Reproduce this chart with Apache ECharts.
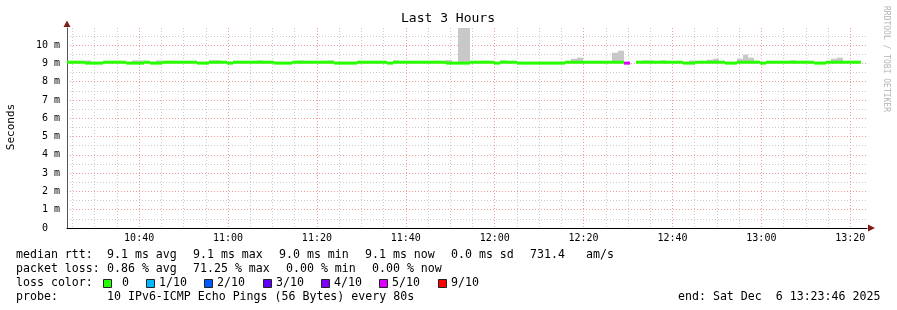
<!DOCTYPE html>
<html><head><meta charset="utf-8">
<script src="https://cdn.jsdelivr.net/npm/echarts@6/dist/echarts.min.js"></script>
<style>html,body{margin:0;padding:0;background:#fff}#c{width:897px;height:310px}</style>
</head><body><div id="c"></div>
<script>
// ---- data ----
const startTime = '10:23:46';
const spanHours = 3;
const stepSec = 80;
const xTickLabels = ['10:40','11:00','11:20','11:40','12:00','12:20','12:40','13:00','13:20'];
const yTickLabels = ['0  ','1 m','2 m','3 m','4 m','5 m','6 m','7 m','8 m','9 m','10 m'];
// median rtt per 80 s step (ms); null = no answer
const medianMs = [
 9.06,9.06,9.06,9.01,9.01,9.01,9.06,9.06,9.06,9.06,
 9.01,9.01,9.01,9.06,9.01,9.01,9.06,9.06,9.06,9.06,
 9.06,9.06,9.01,9.01,9.06,9.06,9.06,9.01,9.06,9.06,
 9.06,9.06,9.06,9.06,9.06,9.01,9.01,9.01,9.06,9.06,
 9.06,9.06,9.06,9.06,9.06,9.01,9.01,9.01,9.01,9.06,
 9.06,9.06,9.06,9.06,9.01,9.06,9.06,9.06,9.06,9.06,
 9.06,9.06,9.06,9.06,9.01,9.01,9.01,9.01,9.06,9.06,
 9.06,9.06,9.01,9.06,9.06,9.06,9.01,9.01,9.01,9.01,
 9.01,9.01,9.01,9.01,9.06,9.06,9.06,9.06,9.06,9.06,
 9.06,9.06,9.06,9.06,9.01,null,9.06,9.06,9.06,9.06,
 9.06,9.06,9.06,9.06,9.01,9.01,9.06,9.06,9.06,9.06,
 9.06,9.01,9.01,9.06,9.06,9.06,9.06,9.01,9.06,9.06,
 9.06,9.06,9.06,9.06,9.06,9.06,9.01,9.01,9.06,9.06,
 9.06,9.06,9.06,9.06
];
// highest ping of each step (top of the smoke, ms); null = no visible smoke
const smokeTopMs = [
 null,null,null,9.16,null,null,null,null,null,null,
 null,9.16,9.16,null,null,9.16,null,null,null,null,
 null,null,null,null,9.16,9.16,null,null,null,null,
 null,null,9.16,null,null,null,null,null,null,9.16,
 null,null,null,null,9.16,null,null,null,null,null,
 null,null,null,null,null,9.16,null,null,null,null,
 null,null,null,null,9.18,null,10.93,10.93,null,null,
 null,null,null,9.16,null,null,null,null,null,null,
 null,null,null,null,null,9.25,9.31,null,null,null,
 null,null,9.58,9.69,null,null,null,9.16,9.16,null,
 9.16,null,null,null,null,9.16,null,null,9.20,9.25,
 null,null,null,9.25,9.47,9.31,null,null,null,null,
 null,null,9.16,null,null,null,null,null,null,9.25,
 9.31,null,null,null
];
// lost pings out of 10 per step
const lossTenths = [
 0,0,0,0,0,0,0,0,0,0, 0,0,0,0,0,0,0,0,0,0, 0,0,0,0,0,0,0,0,0,0,
 0,0,0,0,0,0,0,0,0,0, 0,0,0,0,0,0,0,0,0,0, 0,0,0,0,0,0,0,0,0,0,
 0,0,0,0,0,0,0,0,0,0, 0,0,0,0,0,0,0,0,0,0, 0,0,0,0,0,0,0,0,0,0,
 0,0,0,0,5,10,0,0,0,0, 0,0,0,0,0,0,0,0,0,0, 0,0,0,0,0,0,0,0,0,0,
 0,0,0,0,0,0,0,0,0,0, 0,0,0,0
];
const lossLegend = ['0','1/10','2/10','3/10','4/10','5/10','9/10'];
const lossLegendColors = ['#26ff00','#00b8ff','#0059ff','#5e00ff','#7e00ff','#dd00ff','#ff0000'];
const statsLine1 = ['median rtt:','9.1 ms avg','9.1 ms max','9.0 ms min','9.1 ms now','0.0 ms sd','731.4','am/s'];
const statsLine2 = ['packet loss:','0.86 % avg','71.25 % max','0.00 % min','0.00 % now'];
const probeText = ['probe:','10 IPv6-ICMP Echo Pings (56 Bytes) every 80s','end: Sat Dec  6 13:23:46 2025'];

// ---- helpers ----
const MONO = '"DejaVu Sans Mono", monospace';
const hms = s => { const p = s.split(':').map(Number); return p[0]*3600 + p[1]*60 + (p[2]||0); };
const startSec = hms(startTime);
const endSec = startSec + spanHours*3600;
const majorX = xTickLabels.map(hms);
const minorX = [];
for (let t = Math.ceil(startSec/300)*300; t < endSec; t += 300) if (t % 1200 !== 0) minorX.push(t);
function lossColor(n){ if(n<=0) return lossLegendColors[0]; if(n<=5) return lossLegendColors[n]; return lossLegendColors[6]; }

const smokeData = [], medData = [];
medianMs.forEach((m, i) => {
  const t0 = startSec + i*stepSec, t1 = t0 + stepSec;
  if (m != null && smokeTopMs[i] != null) smokeData.push([t0, t1, m, smokeTopMs[i]]);
  if (m != null) medData.push([t0, t1, m, lossTenths[i]]);
});

const chart = echarts.init(document.getElementById('c'), null, {renderer:'canvas'});
const red = '#f09c9c', gray = '#cccccc';

// legend graphics
const g = [];
function txt(x, y, s){ g.push({type:'text', x:x, y:y, silent:true,
  style:{text:s, font:'11.6px '+MONO, fill:'#000', align:'left', verticalAlign:'middle', textAlign:'left', textVerticalAlign:'middle'}}); }
const l1x = [16,107,193,279,365,451,530,586];
statsLine1.forEach((s,i)=>txt(l1x[i],255,s));
const l2x = [16,107,193,286,372];
statsLine2.forEach((s,i)=>txt(l2x[i],269,s));
txt(16,283,'loss color:');
const boxX = [103,146,204,263,321,379,438];
lossLegend.forEach((s,i)=>{
  g.push({type:'rect', silent:true, shape:{x:boxX[i]+0.5,y:279.5,width:8,height:8}, style:{fill:lossLegendColors[i], stroke:'#222', lineWidth:1}});
  txt(boxX[i]+(i===0?19:13),283,s);
});
txt(16,297,probeText[0]); txt(107,297,probeText[1]); txt(678,297,probeText[2]);
// title, axis name, watermark
g.push({type:'text', silent:true, x:448, y:19, style:{text:'Last 3 Hours', font:'13px '+MONO, fill:'#000', align:'center', verticalAlign:'middle', textAlign:'center', textVerticalAlign:'middle'}});
g.push({type:'text', silent:true, x:11, y:127, rotation:Math.PI/2, style:{text:'Seconds', font:'11px '+MONO, fill:'#000', align:'center', verticalAlign:'middle', textAlign:'center', textVerticalAlign:'middle'}});
g.push({type:'text', silent:true, x:886, y:59, rotation:-Math.PI/2, style:{text:'RRDTOOL / TOBI OETIKER', font:'8px '+MONO, fill:'#b4b4b4', align:'center', verticalAlign:'middle', textAlign:'center', textVerticalAlign:'middle'}});
// axis arrows
g.push({type:'polygon', silent:true, shape:{points:[[868,224.5],[868,231.5],[875,228]]}, style:{fill:'#7f1d1d'}});
g.push({type:'polygon', silent:true, shape:{points:[[63.5,27],[70.5,27],[67,20.5]]}, style:{fill:'#7f1d1d'}});

chart.setOption({
  animation:false,
  backgroundColor:'#ffffff',
  grid:{left:67, top:28, width:800, height:200, containLabel:false},
  xAxis:[{
    type:'value', min:startSec, max:endSec,
    axisLine:{show:true, lineStyle:{color:'#000', width:1}},
    axisTick:{show:false, customValues:majorX},
    axisLabel:{customValues:majorX, formatter:v=>xTickLabels[majorX.indexOf(v)], fontFamily:MONO, fontSize:10, color:'#000', margin:5},
    splitLine:{show:true, lineStyle:{color:red, width:1, type:[1,2]}}
  },{
    type:'value', min:startSec, max:endSec, position:'bottom',
    axisLine:{show:false}, axisTick:{show:false, customValues:minorX},
    axisLabel:{show:false, customValues:minorX},
    splitLine:{show:true, lineStyle:{color:gray, width:1, type:[1,2]}}
  }],
  yAxis:{
    type:'value', min:0, max:10.93, interval:0.5,
    axisLine:{show:true, lineStyle:{color:'#555', width:1}},
    axisTick:{show:false},
    axisLabel:{fontFamily:MONO, fontSize:10, color:'#000', margin:7, showMaxLabel:false,
      formatter:v=> (Math.abs(v-Math.round(v))<1e-6 && Math.round(v) < yTickLabels.length) ? yTickLabels[Math.round(v)] : ''},
    splitLine:{show:true, showMaxLine:false, lineStyle:{color:[red, gray], width:1, type:[1,2]}}
  },
  graphic:g,
  series:[{
    type:'custom', name:'smoke', xAxisIndex:0, yAxisIndex:0, clip:true, data:smokeData,
    renderItem:(p, api)=>{
      const a = api.coord([api.value(0), api.value(3)]);
      const b = api.coord([api.value(1), api.value(2)]);
      const x0 = Math.round(a[0]), x1 = Math.round(b[0]);
      return {type:'rect', shape:{x:x0, y:a[1], width:x1-x0, height:b[1]-a[1]}, style:{fill:'#c8c8c8'}};
    }
  },{
    type:'custom', name:'median', xAxisIndex:0, yAxisIndex:0, clip:true, data:medData,
    renderItem:(p, api)=>{
      const a = api.coord([api.value(0), api.value(2)]);
      const b = api.coord([api.value(1), api.value(2)]);
      const x0 = Math.round(a[0]), x1 = Math.round(b[0]);
      return {type:'rect', shape:{x:x0, y:a[1]-1.5, width:x1-x0, height:3}, style:{fill:lossColor(api.value(3))}};
    }
  }]
});
</script></body></html>
